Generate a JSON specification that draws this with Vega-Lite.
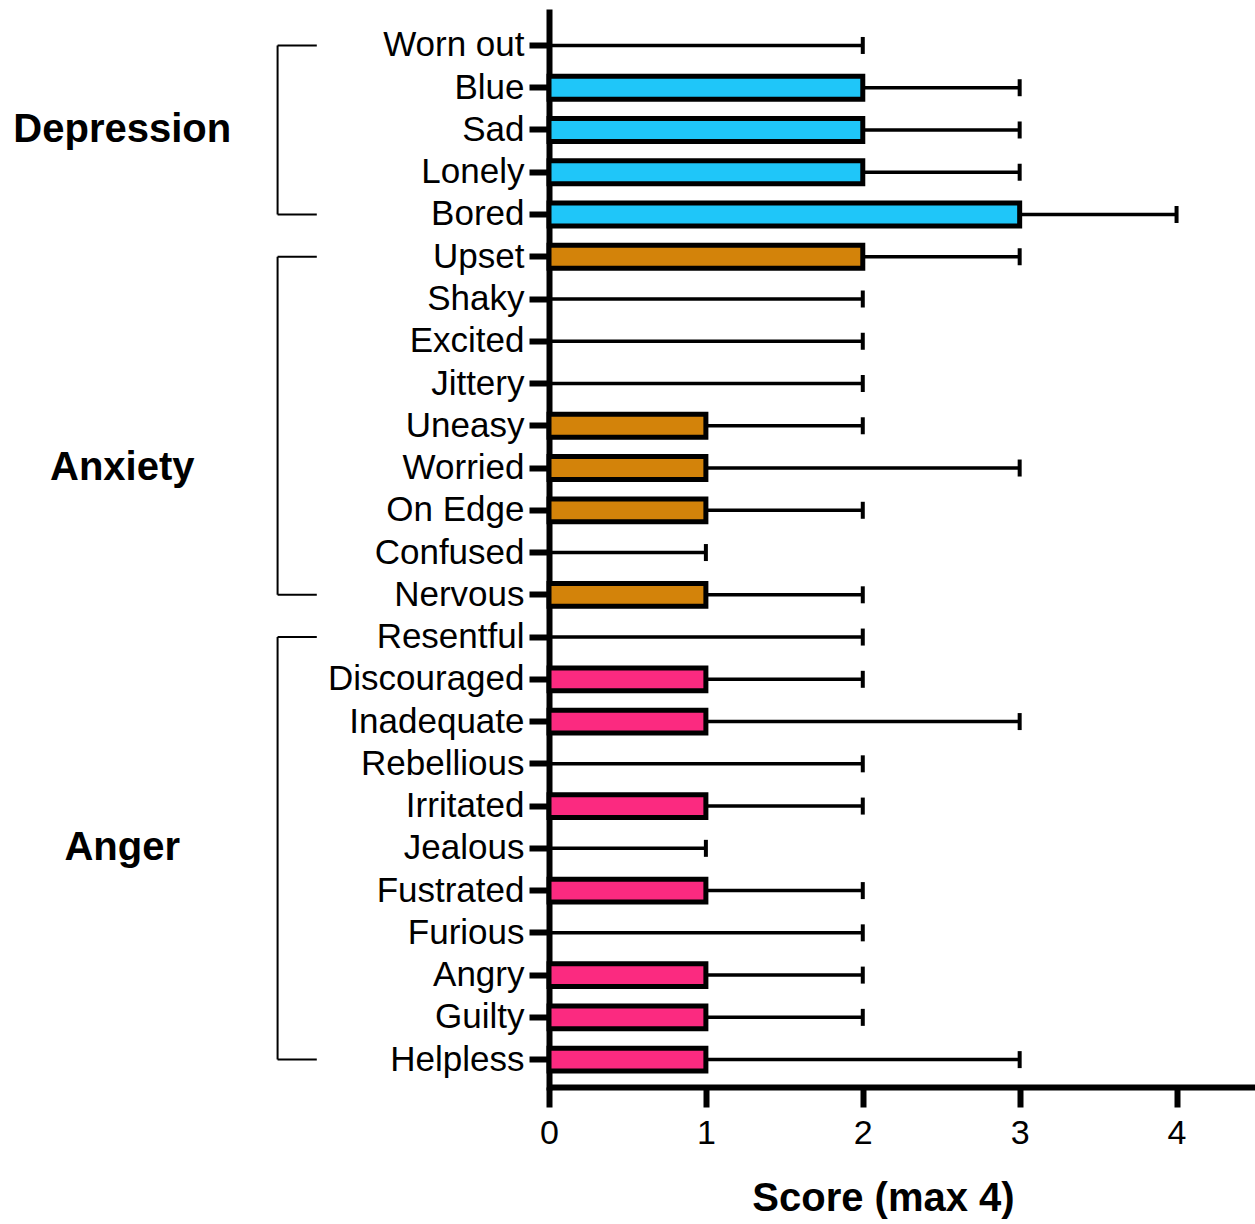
{
  "$schema": "https://vega.github.io/schema/vega-lite/v6.json",
  "width": 706,
  "height": 1075,
  "autosize": {"type": "none"},
  "padding": {"left": 549, "top": 12, "right": 0, "bottom": 137},
  "config": {
    "font": "Liberation Sans",
    "view": {"stroke": null},
    "axisY": {"labelFontSize": 35, "labelLimit": 0, "labelColor": "black", "labelPadding": 5, "tickSize": 20, "tickWidth": 6, "tickColor": "black", "domainWidth": 6, "domainColor": "black", "domainCap": "square"},
    "axisX": {"grid": false, "labelFontSize": 34, "labelFlush": false, "labelColor": "black", "labelPadding": 9, "tickSize": 20, "tickWidth": 6, "tickColor": "black", "domainWidth": 6, "domainColor": "black", "titleFontSize": 40, "titleFontWeight": "bold", "titleColor": "black", "titlePadding": 28, "titleX": 334, "titleAlign": "center"}
  },
  "datasets": {
    "scores": [
      {"label": "Worn out", "group": "Depression", "mean": 0, "upper": 2},
      {"label": "Blue", "group": "Depression", "mean": 2, "upper": 3},
      {"label": "Sad", "group": "Depression", "mean": 2, "upper": 3},
      {"label": "Lonely", "group": "Depression", "mean": 2, "upper": 3},
      {"label": "Bored", "group": "Depression", "mean": 3, "upper": 4},
      {"label": "Upset", "group": "Anxiety", "mean": 2, "upper": 3},
      {"label": "Shaky", "group": "Anxiety", "mean": 0, "upper": 2},
      {"label": "Excited", "group": "Anxiety", "mean": 0, "upper": 2},
      {"label": "Jittery", "group": "Anxiety", "mean": 0, "upper": 2},
      {"label": "Uneasy", "group": "Anxiety", "mean": 1, "upper": 2},
      {"label": "Worried", "group": "Anxiety", "mean": 1, "upper": 3},
      {"label": "On Edge", "group": "Anxiety", "mean": 1, "upper": 2},
      {"label": "Confused", "group": "Anxiety", "mean": 0, "upper": 1},
      {"label": "Nervous", "group": "Anxiety", "mean": 1, "upper": 2},
      {"label": "Resentful", "group": "Anger", "mean": 0, "upper": 2},
      {"label": "Discouraged", "group": "Anger", "mean": 1, "upper": 2},
      {"label": "Inadequate", "group": "Anger", "mean": 1, "upper": 3},
      {"label": "Rebellious", "group": "Anger", "mean": 0, "upper": 2},
      {"label": "Irritated", "group": "Anger", "mean": 1, "upper": 2},
      {"label": "Jealous", "group": "Anger", "mean": 0, "upper": 1},
      {"label": "Fustrated", "group": "Anger", "mean": 1, "upper": 2},
      {"label": "Furious", "group": "Anger", "mean": 0, "upper": 2},
      {"label": "Angry", "group": "Anger", "mean": 1, "upper": 2},
      {"label": "Guilty", "group": "Anger", "mean": 1, "upper": 2},
      {"label": "Helpless", "group": "Anger", "mean": 1, "upper": 3}
    ],
    "brackets": [
      {"group": "Depression", "first": "Worn out", "last": "Bored"},
      {"group": "Anxiety", "first": "Upset", "last": "Nervous"},
      {"group": "Anger", "first": "Resentful", "last": "Helpless"}
    ],
    "groups": [
      {"group": "Depression", "anchor": "Sad"},
      {"group": "Anxiety", "anchor": "Worried"},
      {"group": "Anger", "anchor": "Jealous"}
    ]
  },
  "layer": [
    {
      "data": {"name": "scores"},
      "mark": {"type": "rule", "color": "black", "strokeWidth": 3.5},
      "encoding": {
        "y": {"field": "label", "type": "nominal", "scale": {"type": "band", "domain": ["Worn out","Blue","Sad","Lonely","Bored","Upset","Shaky","Excited","Jittery","Uneasy","Worried","On Edge","Confused","Nervous","Resentful","Discouraged","Inadequate","Rebellious","Irritated","Jealous","Fustrated","Furious","Angry","Guilty","Helpless"], "paddingInner": 0.46, "paddingOuter": 0.45, "align": 0.58}, "axis": {"title": null}},
        "x": {"field": "mean", "type": "quantitative", "scale": {"domain": [0, 4.5], "nice": false, "zero": false}, "axis": {"title": "Score (max 4)", "values": [0, 1, 2, 3, 4]}},
        "x2": {"field": "upper"}
      }
    },
    {
      "data": {"name": "scores"},
      "transform": [{"filter": "datum.mean > 0"}],
      "mark": {"type": "bar", "stroke": "black", "strokeWidth": 5, "cornerRadius": 0},
      "encoding": {
        "y": {"field": "label", "type": "nominal", "scale": {"type": "band", "domain": ["Worn out","Blue","Sad","Lonely","Bored","Upset","Shaky","Excited","Jittery","Uneasy","Worried","On Edge","Confused","Nervous","Resentful","Discouraged","Inadequate","Rebellious","Irritated","Jealous","Fustrated","Furious","Angry","Guilty","Helpless"], "paddingInner": 0.46, "paddingOuter": 0.45, "align": 0.58}, "axis": {"title": null}},
        "x": {"field": "mean", "type": "quantitative", "scale": {"domain": [0, 4.5], "nice": false, "zero": false}, "axis": {"title": "Score (max 4)", "values": [0, 1, 2, 3, 4]}},
        "color": {"field": "group", "type": "nominal", "scale": {"domain": ["Depression", "Anxiety", "Anger"], "range": ["#1FC6F9", "#D3830A", "#FB2A80"]}, "legend": null}
      }
    },
    {
      "data": {"name": "scores"},
      "mark": {"type": "tick", "color": "black", "opacity": 1, "thickness": 4, "size": 17},
      "encoding": {
        "y": {"field": "label", "type": "nominal", "scale": {"type": "band", "domain": ["Worn out","Blue","Sad","Lonely","Bored","Upset","Shaky","Excited","Jittery","Uneasy","Worried","On Edge","Confused","Nervous","Resentful","Discouraged","Inadequate","Rebellious","Irritated","Jealous","Fustrated","Furious","Angry","Guilty","Helpless"], "paddingInner": 0.46, "paddingOuter": 0.45, "align": 0.58}, "axis": {"title": null}},
        "x": {"field": "upper", "type": "quantitative", "scale": {"domain": [0, 4.5], "nice": false, "zero": false}, "axis": {"title": "Score (max 4)", "values": [0, 1, 2, 3, 4]}}
      }
    },
    {
      "data": {"name": "brackets"},
      "mark": {"type": "rule", "color": "black", "strokeWidth": 2},
      "encoding": {
        "y": {"field": "first", "type": "nominal", "scale": {"type": "band", "domain": ["Worn out","Blue","Sad","Lonely","Bored","Upset","Shaky","Excited","Jittery","Uneasy","Worried","On Edge","Confused","Nervous","Resentful","Discouraged","Inadequate","Rebellious","Irritated","Jealous","Fustrated","Furious","Angry","Guilty","Helpless"], "paddingInner": 0.46, "paddingOuter": 0.45, "align": 0.58}, "axis": {"title": null}},
        "y2": {"field": "last"},
        "x": {"datum": -1.73, "type": "quantitative", "scale": {"domain": [0, 4.5], "nice": false, "zero": false}, "axis": {"title": "Score (max 4)", "values": [0, 1, 2, 3, 4]}}
      }
    },
    {
      "data": {"name": "brackets"},
      "mark": {"type": "rule", "color": "black", "strokeWidth": 2},
      "encoding": {
        "y": {"field": "first", "type": "nominal", "scale": {"type": "band", "domain": ["Worn out","Blue","Sad","Lonely","Bored","Upset","Shaky","Excited","Jittery","Uneasy","Worried","On Edge","Confused","Nervous","Resentful","Discouraged","Inadequate","Rebellious","Irritated","Jealous","Fustrated","Furious","Angry","Guilty","Helpless"], "paddingInner": 0.46, "paddingOuter": 0.45, "align": 0.58}, "axis": {"title": null}},
        "x": {"datum": -1.73, "type": "quantitative", "scale": {"domain": [0, 4.5], "nice": false, "zero": false}, "axis": {"title": "Score (max 4)", "values": [0, 1, 2, 3, 4]}},
        "x2": {"datum": -1.48}
      }
    },
    {
      "data": {"name": "brackets"},
      "mark": {"type": "rule", "color": "black", "strokeWidth": 2},
      "encoding": {
        "y": {"field": "last", "type": "nominal", "scale": {"type": "band", "domain": ["Worn out","Blue","Sad","Lonely","Bored","Upset","Shaky","Excited","Jittery","Uneasy","Worried","On Edge","Confused","Nervous","Resentful","Discouraged","Inadequate","Rebellious","Irritated","Jealous","Fustrated","Furious","Angry","Guilty","Helpless"], "paddingInner": 0.46, "paddingOuter": 0.45, "align": 0.58}, "axis": {"title": null}},
        "x": {"datum": -1.73, "type": "quantitative", "scale": {"domain": [0, 4.5], "nice": false, "zero": false}, "axis": {"title": "Score (max 4)", "values": [0, 1, 2, 3, 4]}},
        "x2": {"datum": -1.48}
      }
    },
    {
      "data": {"name": "groups"},
      "mark": {"type": "text", "fontSize": 40, "fontWeight": "bold", "color": "black", "align": "center", "baseline": "middle"},
      "encoding": {
        "y": {"field": "anchor", "type": "nominal", "scale": {"type": "band", "domain": ["Worn out","Blue","Sad","Lonely","Bored","Upset","Shaky","Excited","Jittery","Uneasy","Worried","On Edge","Confused","Nervous","Resentful","Discouraged","Inadequate","Rebellious","Irritated","Jealous","Fustrated","Furious","Angry","Guilty","Helpless"], "paddingInner": 0.46, "paddingOuter": 0.45, "align": 0.58}, "axis": {"title": null}},
        "x": {"datum": -2.72, "type": "quantitative", "scale": {"domain": [0, 4.5], "nice": false, "zero": false}, "axis": {"title": "Score (max 4)", "values": [0, 1, 2, 3, 4]}},
        "text": {"field": "group"}
      }
    }
  ]
}
